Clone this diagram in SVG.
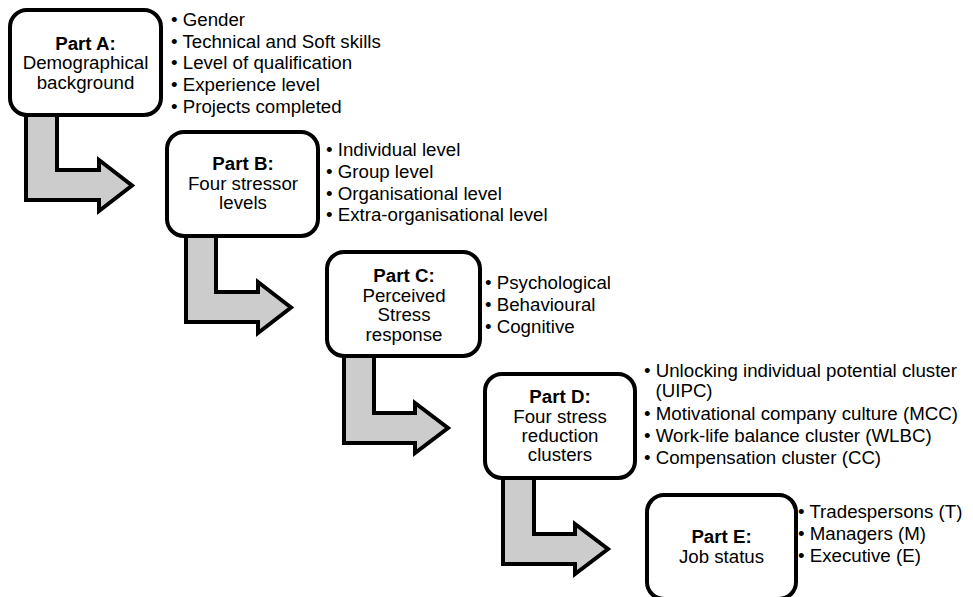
<svg xmlns="http://www.w3.org/2000/svg" width="973" height="597" viewBox="0 0 973 597">
<style>
.box{fill:#ffffff;stroke:#000000;stroke-width:4}
.arr{fill:#cccccc;stroke:#000000;stroke-width:4;stroke-linejoin:miter}
text{font-family:"Liberation Sans",Arial,sans-serif;font-size:18.7px;fill:#000000}
.t{text-anchor:middle}
.b{font-weight:bold}
</style>
<rect width="973" height="597" fill="#ffffff"/>
<g id="connectors">
<polygon class="arr" points="26,98 57,98 57,170 99,170 99,160 132,185.5 99,211 99,200 26,200"/>
<polygon class="arr" points="186,220 216,220 216,292 258,292 258,282 291,307.5 258,333 258,322 186,322"/>
<polygon class="arr" points="344,340 374,340 374,413 415,413 415,403 448,428 415,453 415,443 344,443"/>
<polygon class="arr" points="503,460 534,460 534,534 575,534 575,524 608,549 575,574 575,564 503,564"/>
</g>
<g id="partA">
<rect class="box" x="10" y="10" width="151" height="105" rx="17"/>
<text class="t b" x="85.5" y="49.5">Part A:</text>
<text class="t" x="85.5" y="69">Demographical</text>
<text class="t" x="85.5" y="88.5">background</text>
<text x="171" y="26">• Gender</text>
<text x="171" y="47.7">• Technical and Soft skills</text>
<text x="171" y="69.4">• Level of qualification</text>
<text x="171" y="91.1">• Experience level</text>
<text x="171" y="112.8">• Projects completed</text>
</g>
<g id="partB">
<rect class="box" x="167" y="132" width="151" height="104" rx="17"/>
<text class="t b" x="243" y="170">Part B:</text>
<text class="t" x="243" y="189.5">Four stressor</text>
<text class="t" x="243" y="209">levels</text>
<text x="326" y="156">• Individual level</text>
<text x="326" y="178">• Group level</text>
<text x="326" y="199.5">• Organisational level</text>
<text x="326" y="221">• Extra-organisational level</text>
</g>
<g id="partC">
<rect class="box" x="327" y="252" width="153" height="104" rx="17"/>
<text class="t b" x="404" y="282">Part C:</text>
<text class="t" x="404" y="301.5">Perceived</text>
<text class="t" x="404" y="321">Stress</text>
<text class="t" x="404" y="340.5">response</text>
<text x="485" y="289">• Psychological</text>
<text x="485" y="311">• Behavioural</text>
<text x="485" y="333">• Cognitive</text>
</g>
<g id="partD">
<rect class="box" x="485" y="374" width="150" height="104" rx="17"/>
<text class="t b" x="560" y="403">Part D:</text>
<text class="t" x="560" y="422.5">Four stress</text>
<text class="t" x="560" y="442">reduction</text>
<text class="t" x="560" y="461">clusters</text>
<text x="644" y="377">• Unlocking individual potential cluster</text>
<text x="655.5" y="397">(UIPC)</text>
<text x="644" y="420">• Motivational company culture (MCC)</text>
<text x="644" y="442">• Work-life balance cluster (WLBC)</text>
<text x="644" y="464">• Compensation cluster (CC)</text>
</g>
<g id="partE">
<rect class="box" x="647" y="495" width="149" height="104" rx="17"/>
<text class="t b" x="721.5" y="543">Part E:</text>
<text class="t" x="721.5" y="563">Job status</text>
<text x="798" y="518">• Tradespersons (T)</text>
<text x="798" y="540">• Managers (M)</text>
<text x="798" y="562">• Executive (E)</text>
</g>
</svg>
